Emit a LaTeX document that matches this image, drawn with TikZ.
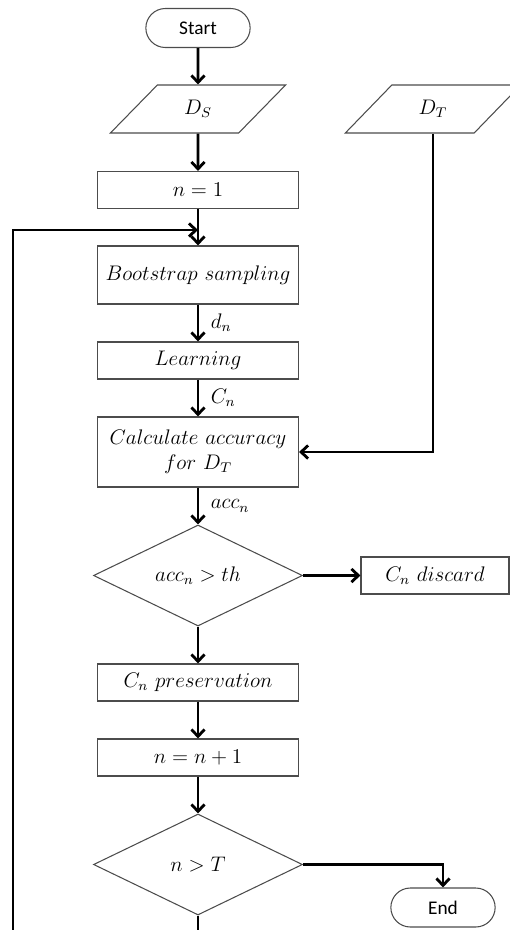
\documentclass[tikz,border=0pt]{standalone}
\usepackage{fontspec}
\newfontfamily\calfont{Carlito}
\usetikzlibrary{arrows.meta}
\usetikzlibrary{quotes}
\usetikzlibrary{shapes.geometric,shapes.misc}

\begin{document}
\begin{tikzpicture}[x=0.2mm,y=-0.2mm,>={Straight Barb[length=4pt,width=7.5pt]},
    font=\fontsize{12}{14}\selectfont,
    every edge/.style={draw,line width=1.6pt},
    every edge quotes/.style={auto=left,inner sep=6.5pt},
    term/.style={rounded rectangle,draw=black!70,line width=0.6pt,minimum width=23.2mm,minimum height=7.8mm,font=\calfont\fontsize{11}{13}\selectfont},
    io/.style={trapezium,trapezium left angle=52,trapezium right angle=128,trapezium stretches=true,draw=black!70,line width=0.6pt,minimum width=35.2mm,minimum height=9.6mm},
    proc/.style={rectangle,draw=black!70,line width=0.6pt,minimum width=40.2mm,minimum height=7.4mm},
    cond/.style={diamond,aspect=2,draw=black!70,line width=0.6pt,minimum width=41.8mm,minimum height=20.2mm}]
    \useasboundingbox (0,0) rectangle (510,930);
    \node[term] (start) at (198,28) {Start};
    \node[io] (ds) at (198,109) {$D_S$};
    \node[io] (dt) at (433,109) {$D_T$};
    \node[proc] (n1) at (198,190) {$n=1$};
    \node[proc,minimum height=11.6mm] (boot) at (198,275) {$Bootstrap\ sampling$};
    \node[proc] (learn) at (198,360.5) {$Learning$};
    \node[proc,minimum height=14mm,align=center] (calc) at (198,452) {$Calculate\ accuracy$\\$for\ D_T$};
    \node[cond] (acc) at (198,575.5) {$acc_n>th$};
    \node[proc,minimum width=29.6mm] (disc) at (435,575.5) {$C_n\ discard$};
    \node[proc] (pres) at (198,682.5) {$C_n\ preservation$};
    \node[proc] (inc) at (198,757.5) {$n=n+1$};
    \node[cond] (stop) at (198,864.5) {$n>T$};
    \node[term] (end) at (443,907.5) {End};
    \coordinate (back) at (198,230);
    \draw (start) edge[->] (ds);
    \draw (ds) edge[->] (n1);
    \draw (n1) edge[->] (boot);
    \draw (boot) edge["$d_n$",->] (learn);
    \draw (learn) edge["$C_n$",->] (calc);
    \draw (calc) edge["$acc_n$",->] (acc);
    \draw (acc) edge[->] (disc);
    \draw (acc) edge[->] (pres);
    \draw (pres) edge[->] (inc);
    \draw (inc) edge[->] (stop);
    \draw[line width=1.6pt,->] (dt) |- (calc);
    \draw[line width=1.6pt,->] (stop) -| (end);
    \draw[line width=1.6pt,->] (stop.south) -- ++(0,50) -| (13,230) -- (back);
\end{tikzpicture}
\end{document}
